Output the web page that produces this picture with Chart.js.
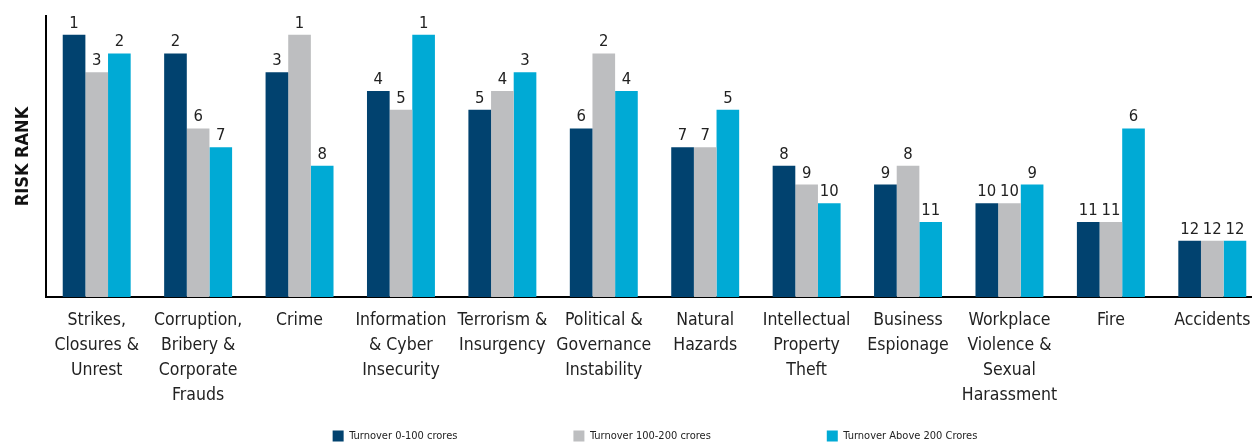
<!DOCTYPE html>
<html><head><meta charset="utf-8">
<script src="https://cdn.jsdelivr.net/npm/chart.js@4.4.1/dist/chart.umd.min.js"></script>
<style>html,body{margin:0;padding:0;overflow:hidden;background:#fff;width:1252px;height:442px}canvas{display:block}</style>
</head><body>
<canvas id="c" width="1310" height="442"></canvas>
<script>
const categories = [
  ["Strikes,","Closures &","Unrest"],
  ["Corruption,","Bribery &","Corporate","Frauds"],
  ["Crime"],
  ["Information","& Cyber","Insecurity"],
  ["Terrorism &","Insurgency"],
  ["Political &","Governance","Instability"],
  ["Natural","Hazards"],
  ["Intellectual","Property","Theft"],
  ["Business","Espionage"],
  ["Workplace","Violence &","Sexual","Harassment"],
  ["Fire"],
  ["Accidents"]
];
const seriesNames = ["Turnover 0-100 crores","Turnover 100-200 crores","Turnover Above 200 Crores"];
const rankTurnover0to100 = [1,2,3,4,5,6,7,8,9,10,11,12];
const rankTurnover100to200 = [3,6,1,5,4,2,7,9,8,10,11,12];
const rankTurnoverAbove200 = [2,7,8,1,3,4,5,10,11,9,6,12];
const rankAxisBottom = 15;

const FONT = "'Liberation Sans Narrow', 'DejaVu Sans Condensed', 'Roboto', sans-serif";
const colors = ["#01426f","#bdbec0","#00aad5"];
const rankSeries = [rankTurnover0to100, rankTurnover100to200, rankTurnoverAbove200];

const rankLabels = {
  id: 'rankLabels',
  afterDatasetsDraw(chart) {
    const ctx = chart.ctx, y = chart.scales.y;
    ctx.save();
    ctx.font = "16.5px " + FONT;
    ctx.fillStyle = "#222";
    ctx.textAlign = "center";
    ctx.textBaseline = "alphabetic";
    chart.data.datasets.forEach((ds, i) => {
      const meta = chart.getDatasetMeta(i);
      meta.data.forEach((bar, j) => {
        const r = ds.ranks[j];
        ctx.fillText(String(r), bar.x, y.getPixelForValue(r) - 7);
      });
    });
    ctx.restore();
  }
};

const legendPad = 116;

new Chart(document.getElementById('c'), {
  type: 'bar',
  data: {
    labels: categories,
    datasets: rankSeries.map((ranks, i) => ({
      label: seriesNames[i],
      ranks: ranks,
      data: ranks.map(r => [r, rankAxisBottom]),
      backgroundColor: colors[i],
      borderWidth: 0,
      categoryPercentage: 0.67,
      barPercentage: 1.0
    }))
  },
  options: {
    responsive: false,
    animation: false,
    layout: { padding: { top: 16, left: 0, right: 0, bottom: 0 } },
    scales: {
      x: {
        grid: { display: false, drawTicks: false },
        border: { display: true, color: '#000', width: 2 },
        ticks: { font: { family: FONT, size: 17.5, lineHeight: 1.43 }, color: '#222', padding: 11, maxRotation: 0, autoSkip: false },
        afterFit(s) { s.height = 133.5 - legendPad; s._computeLabelArea = () => undefined; }
      },
      y: {
        reverse: true, min: 0, max: rankAxisBottom,
        grid: { display: false, drawTicks: false },
        border: { display: true, color: '#000', width: 2 },
        ticks: { display: false },
        title: { display: true, text: 'RISK RANK', font: { family: FONT, size: 18, weight: 'bold' }, color: '#111', padding: { top: 13, bottom: 0 } },
        afterFit(s) { s.width = 46; }
      },
      yPad: {
        position: 'right', display: true,
        grid: { display: false, drawTicks: false },
        border: { display: false },
        ticks: { display: false },
        afterFit(s) { s.width = 47; }
      }
    },
    plugins: {
      legend: {
        position: 'bottom', maxHeight: 11.5 + legendPad,
        labels: { boxWidth: 11, boxHeight: 11, padding: legendPad, font: { family: FONT, size: 11 }, color: '#222' }
      },
      tooltip: { enabled: false }
    }
  },
  plugins: [rankLabels]
});
</script>
</body></html>
